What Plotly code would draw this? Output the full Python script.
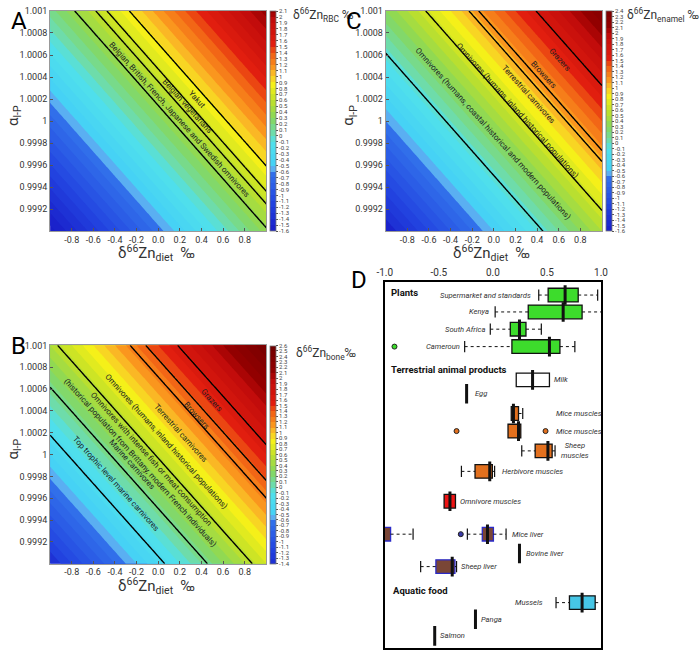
import numpy as np
import plotly.graph_objects as go

W, H = 700, 651
FONT = "Roboto"

# ---------------- contour panels (A, B, C) ----------------
# linear mass-balance field read from the colour bands:
# d66Zn_tissue = offset + d66Zn_diet + alpha_slope * (alpha - 1) * 1000
diet_grid = np.linspace(-1.0, 1.0, 101)
alpha_grid = np.linspace(0.999, 1.001, 101)
alpha_slope = 0.9
offset_A = 0.25   # RBC
offset_B = 0.60   # bone
offset_C = 0.40   # enamel

cbar_A = (-1.6, 2.1)
cbar_B = (-1.4, 2.6)
cbar_C = (-1.6, 2.4)
cbar_step = 0.1

# iso-lines bounding the groups (in per mil of the tissue)
lines_A = [0.883, 0.676, 0.573, 0.378]
lines_B = [1.68, 1.385, 1.24, 0.57, 0.155, -0.24]
lines_C = [1.69, 1.16, 1.07, 0.67, -0.045]

# group labels: (text, diet, alpha)
labels_A = [
    ("Yakut", 0.36, 1.000198),
    ("Belgian vegetarians", 0.27, 1.00013),
    ("Belgian, British, French, Japanese and Swedish omnivores", 0.195, 1.000018),
]
labels_B = [
    ("Grazers", 0.496, 1.000496),
    ("Browsers", 0.355, 1.00036),
    ("Terrestrial carnivores", 0.21, 1.000193),
    ("Omnivores (humans, inland historical populations)", 0.074, 1.000118),
    ("Omnivores with intense fish or meat consumption", -0.071, 0.999961),
    ("(historical population from Brittany, modern French individuals)", -0.167, 0.99993),
    ("Marine carnivores", -0.243, 0.999907),
    ("Top trophic level marine carnivores", -0.393, 0.999734),
]
labels_C = [
    ("Grazers", 0.607, 1.000559),
    ("Browsers", 0.457, 1.000423),
    ("Terrestrial carnivores", 0.321, 1.000243),
    ("Omnivores (humans, inland historical populations)", 0.215, 1.000093),
    ("Omnivores (humans, coastal historical and modern populations)", -0.011, 0.999883),
]

x_ticks = [-0.8, -0.6, -0.4, -0.2, 0.0, 0.2, 0.4, 0.6, 0.8]
x_ticktext = ["-0.8", "-0.6", "-0.4", "-0.2", "0.0", "0.2", "0.4", "0.6", "0.8"]
y_ticks = [0.9992, 0.9994, 0.9996, 0.9998, 1.0, 1.0002, 1.0004, 1.0006, 1.0008, 1.001]
y_ticktext = ["0.9992", "0.9994", "0.9996", "0.9998", "1", "1.0002", "1.0004",
              "1.0006", "1.0008", "1.001"]

# colour map by value (per mil), shared by the three panels
cmap_values = [-1.6, -1.1, -0.6, -0.55, -0.45, -0.1, 0.05, 0.3, 0.6, 0.85, 1.0, 1.15, 1.4, 1.55, 2.0, 2.1, 2.6]
cmap_colors = [(25, 30, 200), (35, 70, 225), (50, 115, 235), (90, 175, 242), (70, 210, 245),
               (80, 225, 235), (110, 220, 170), (135, 215, 90), (195, 225, 40), (245, 240, 25),
               (250, 200, 40), (250, 150, 30), (240, 90, 20), (225, 30, 15), (190, 10, 10),
               (150, 0, 0), (110, 0, 0)]

# ---------------- panel D (box plots of diet d66Zn) ----------------
box_names = ["Supermarket and standards", "Kenya", "South Africa", "Cameroun", "Milk",
             "Mice muscles", "Mice muscles", "Sheep muscles", "Herbivore muscles",
             "Omnivore muscles", "Mice liver", "Mice liver", "Sheep liver", "Mussels"]
box_row = [1.0, 1.99, 3.0, 4.02, 5.97, 7.94, 8.97, 10.13, 11.33, 13.08, 15.01, 15.01, 16.91, 19.02]
box_low = [0.424, 0.021, -0.024, -0.261, None, None, None, 0.267, -0.291, None, None, -0.236, -0.668, 0.584]
box_q1 = [0.511, 0.327, 0.161, 0.176, 0.216, 0.170, 0.140, 0.391, -0.165, -0.451, -1.04, -0.098, -0.527, 0.708]
box_med = [0.668, 0.650, 0.246, 0.523, 0.367, 0.190, 0.237, 0.509, -0.029, -0.397, -1.02, -0.050, -0.376, 0.825]
box_q3 = [0.789, 0.825, 0.306, 0.620, 0.523, 0.237, 0.258, 0.548, -0.005, -0.346, -0.946, 0.005, -0.351, 0.946]
box_high = [0.969, 1.05, 0.448, 0.758, None, 0.276, None, 0.575, 0.016, None, -0.738, 0.122, -0.336, 1.05]
box_group = ["plant", "plant", "plant", "plant", "milk", "muscle", "muscle", "muscle", "muscle",
             "omni", "liver", "liver", "liver", "aquatic"]

single_names = ["Egg", "Bovine liver", "Panga", "Salmon"]
single_row = [6.78, 16.14, 19.99, 20.97]
single_value = [-0.243, 0.246, -0.161, -0.538]

outlier_row = [4.02, 8.97, 8.97, 15.01]
outlier_value = [-0.91, -0.336, 0.487, -0.297]
outlier_group = ["plant", "muscle", "muscle", "liverdot"]

# row labels: (text, row, x, anchor)
row_labels = [
    ("Supermarket and standards", 1.0, 0.372, "right"),
    ("Kenya", 1.99, -0.02, "right"),
    ("South Africa", 3.0, -0.041, "right"),
    ("Cameroun", 4.02, -0.285, "right"),
    ("Milk", 5.97, 0.548, "left"),
    ("Egg", 6.78, -0.186, "left"),
    ("Mice muscles", 7.94, 0.563, "left"),
    ("Mice muscles", 8.97, 0.563, "left"),
    ("Sheep<br>muscles", 10.13, 0.608, "left"),
    ("Herbivore muscles", 11.33, 0.066, "left"),
    ("Omnivore muscles", 13.08, -0.321, "left"),
    ("Mice liver", 15.01, 0.162, "left"),
    ("Bovine liver", 16.14, 0.291, "left"),
    ("Sheep liver", 16.91, -0.315, "left"),
    ("Mussels", 19.02, 0.478, "right"),
    ("Panga", 19.99, -0.131, "left"),
    ("Salmon", 20.97, -0.508, "left"),
]
headers = [("Plants", 0.85, -0.965), ("Terrestrial animal products", 5.36, -0.965),
           ("Aquatic food", 18.31, -0.945)]
d_ticks = [-1.0, -0.5, 0.0, 0.5, 1.0]
d_ticktext = ["-1.0", "-0.5", "0.0", "0.5", "1.0"]

fill_colors = {"plant": "#3ddc2c", "milk": "#ffffff", "muscle": "#e2701e", "omni": "#ee1414",
               "liver": "#7a4636", "aquatic": "#46c6e6", "liverdot": "#3a3aa8"}
edge_colors = {"plant": "#111", "milk": "#111", "muscle": "#111", "omni": "#111",
               "liver": "#2a2ac8", "aquatic": "#111"}

fig = go.Figure()
annotations = []


def interp_color(v):
    vs = cmap_values
    if v <= vs[0]:
        return cmap_colors[0]
    for i in range(1, len(vs)):
        if v <= vs[i]:
            t = (v - vs[i - 1]) / (vs[i] - vs[i - 1])
            a, b = cmap_colors[i - 1], cmap_colors[i]
            return tuple(a[k] + t * (b[k] - a[k]) for k in range(3))
    return cmap_colors[-1]


def panel_scale(lo, hi):
    pts = [lo] + [v for v in cmap_values if lo < v < hi] + [hi]
    out = []
    for v in pts:
        c = interp_color(v)
        out.append([(v - lo) / (hi - lo), "rgb(%d,%d,%d)" % tuple(int(round(x)) for x in c)])
    return out


def px_ann(x, y, text, size, color="#222", xanchor="center", yanchor="middle", **kw):
    annotations.append(dict(xref="paper", yref="paper", x=x / W, y=1 - y / H, text=text,
                            showarrow=False, xanchor=xanchor, yanchor=yanchor,
                            font=dict(size=size, color=color, family=FONT), **kw))


def cbar_ticks(lo, hi):
    n = int(round((hi - lo) / cbar_step))
    vals = [round(lo + i * cbar_step, 1) for i in range(n + 1)]
    txt = ["%g" % v if v != 0 else "0" for v in vals]
    return vals, txt


def contour_panel(idx, offset, crange, levels, labels, box_px):
    xa = "x" if idx == 1 else "x%d" % idx
    ya = "y" if idx == 1 else "y%d" % idx
    X, A = np.meshgrid(diet_grid, alpha_grid)
    Z = offset + X + alpha_slope * (A - 1.0) * 1000.0
    left, top, right, bottom = box_px
    tv, tt = cbar_ticks(*crange)
    fig.add_trace(go.Contour(
        x=diet_grid, y=alpha_grid, z=Z, xaxis=xa, yaxis=ya,
        colorscale=panel_scale(*crange), zmin=crange[0], zmax=crange[1], zauto=False,
        autocontour=False,
        contours=dict(start=crange[0], end=crange[1], size=cbar_step, coloring="fill", showlines=False),
        line=dict(width=0), hoverinfo="skip",
        colorbar=dict(x=(right + 4) / W, xanchor="left", xpad=0, ypad=0,
                      y=1 - (top + bottom) / 2 / H, yanchor="middle",
                      len=(bottom - top) / H, lenmode="fraction",
                      thickness=6, thicknessmode="pixels",
                      outlinewidth=0.8, outlinecolor="#777",
                      tickvals=tv, ticktext=tt, ticks="outside", ticklen=2, tickwidth=0.6,
                      tickcolor="#555", tickfont=dict(size=6, color="#444", family=FONT)),
    ))
    for lv in levels:
        fig.add_trace(go.Contour(
            x=diet_grid, y=alpha_grid, z=Z, xaxis=xa, yaxis=ya, showscale=False,
            autocontour=False, contours=dict(start=lv, end=lv, size=1, coloring="none"),
            line=dict(color="black", width=1.4), hoverinfo="skip"))
    for text, dx, al in labels:
        annotations.append(dict(xref=xa, yref=ya, x=dx, y=al, text=text, showarrow=False,
                                textangle=48, font=dict(size=8, color="#1e1e1e", family=FONT)))
    axcommon = dict(showline=True, linecolor="#999", linewidth=1, mirror=True, ticks="inside",
                    ticklen=3, tickcolor="#555", showgrid=False, zeroline=False,
                    tickfont=dict(size=9, color="#333", family=FONT))
    fig.layout[("xaxis" if idx == 1 else "xaxis%d" % idx)] = dict(
        domain=[left / W, right / W], range=[-1, 1], anchor=ya,
        tickvals=x_ticks, ticktext=x_ticktext, **axcommon)
    fig.layout[("yaxis" if idx == 1 else "yaxis%d" % idx)] = dict(
        domain=[1 - bottom / H, 1 - top / H], range=[0.999, 1.001], anchor=xa,
        tickvals=y_ticks, ticktext=y_ticktext, **axcommon)
    # axis titles
    px_ann((left + right) / 2 - 2, bottom + 22, "δ<sup>66</sup>Zn<sub>diet</sub>  ‰", 15, color="#333")
    px_ann(left - 37, (top + bottom) / 2 - 6, "α<sub>l-P</sub>", 15, color="#333", textangle=-90)


contour_panel(1, offset_A, cbar_A, lines_A, labels_A, (43, 6, 264, 228))
contour_panel(2, offset_B, cbar_B, lines_B, labels_B, (43, 343, 264, 563))
contour_panel(3, offset_C, cbar_C, lines_C, labels_C, (386, 6, 607, 228))

# colour-bar titles
px_ann(289, 10, "δ<sup>66</sup>Zn<sub>RBC</sub> ‰", 12, color="#333", xanchor="left")
px_ann(292, 351, "δ<sup>66</sup>Zn<sub>bone</sub>‰", 12, color="#333", xanchor="left")
px_ann(630, 10, "δ<sup>66</sup>Zn<sub>enamel</sub> ‰", 12, color="#333", xanchor="left")

# panel letters
px_ann(11, 16, "A", 24, color="black")
px_ann(11, 344, "B", 24, color="black")
px_ann(354, 16, "C", 24, color="black")
px_ann(359, 277, "D", 24, color="black")

# ---------------- panel D traces ----------------
XD, YD = "x4", "y4"
for i in range(len(box_row)):
    g = box_group[i]
    fig.add_trace(go.Box(
        orientation="h", y=[box_row[i]], q1=[box_q1[i]], median=[box_med[i]], q3=[box_q3[i]],
        lowerfence=[box_q1[i]], upperfence=[box_q3[i]], width=0.8,
        fillcolor=fill_colors[g], line=dict(color=edge_colors[g], width=1.3),
        xaxis=XD, yaxis=YD, showlegend=False, hoverinfo="skip", boxpoints=False))

# dashed whiskers and caps
wx, wy, cx, cy = [], [], [], []
for p, lo, q1, q3, hi in zip(box_row, box_low, box_q1, box_q3, box_high):
    if lo is not None:
        wx += [lo, q1, None]; wy += [p, p, None]; cx.append(lo); cy.append(p)
    if hi is not None:
        wx += [q3, hi, None]; wy += [p, p, None]; cx.append(hi); cy.append(p)
fig.add_trace(go.Scatter(x=wx, y=wy, mode="lines", line=dict(color="#111", width=1, dash="3px,3px"),
                         xaxis=XD, yaxis=YD, showlegend=False, hoverinfo="skip"))
fig.add_trace(go.Scatter(x=cx, y=cy, mode="markers",
                         marker=dict(symbol="line-ns", size=8, line=dict(color="#111", width=1.2)),
                         xaxis=XD, yaxis=YD, showlegend=False, hoverinfo="skip"))
# thick medians
fig.add_trace(go.Scatter(x=box_med, y=box_row, mode="markers",
                         marker=dict(symbol="line-ns", size=14, line=dict(color="#111", width=3)),
                         xaxis=XD, yaxis=YD, showlegend=False, hoverinfo="skip"))
# single measurements
fig.add_trace(go.Scatter(x=single_value, y=single_row, mode="markers",
                         marker=dict(symbol="line-ns", size=14, line=dict(color="#111", width=3)),
                         xaxis=XD, yaxis=YD, showlegend=False, hoverinfo="skip"))
# outliers
fig.add_trace(go.Scatter(x=outlier_value, y=outlier_row, mode="markers",
                         marker=dict(symbol="circle", size=5, color=[fill_colors[g] for g in outlier_group],
                                     line=dict(color="#222", width=1)),
                         xaxis=XD, yaxis=YD, showlegend=False, hoverinfo="skip"))

for text, r, xv, anc in row_labels:
    annotations.append(dict(xref=XD, yref=YD, x=xv, y=r, text="<i>%s</i>" % text, showarrow=False,
                            xanchor=anc, font=dict(size=7.6, color="#333", family=FONT)))
for text, r, xv in headers:
    annotations.append(dict(xref=XD, yref=YD, x=xv, y=r, text="<b>%s</b>" % text, showarrow=False,
                            xanchor="left", font=dict(size=9.5, color="#111", family=FONT)))

fig.layout["xaxis4"] = dict(domain=[385 / W, 606 / W], range=[-1, 1], anchor=YD, side="top",
                            tickvals=d_ticks, ticktext=d_ticktext, ticks="", showgrid=False,
                            zeroline=False, showline=True, linecolor="black", linewidth=2, mirror=True,
                            tickfont=dict(size=10, color="#333", family=FONT))
fig.layout["yaxis4"] = dict(domain=[1 - 648 / H, 1 - 279 / H], range=[21.68, 0.227], anchor=XD,
                            showticklabels=False, ticks="", showgrid=False, zeroline=False,
                            showline=True, linecolor="black", linewidth=2, mirror=True)

fig.update_layout(width=W, height=H, autosize=False, margin=dict(l=0, r=0, t=0, b=0),
                  paper_bgcolor="white", plot_bgcolor="white", showlegend=False,
                  boxmode="overlay", font=dict(family=FONT), annotations=annotations)

fig.write_html("out.html", config={"displayModeBar": False},
               post_script="document.body.style.margin='0px';")
